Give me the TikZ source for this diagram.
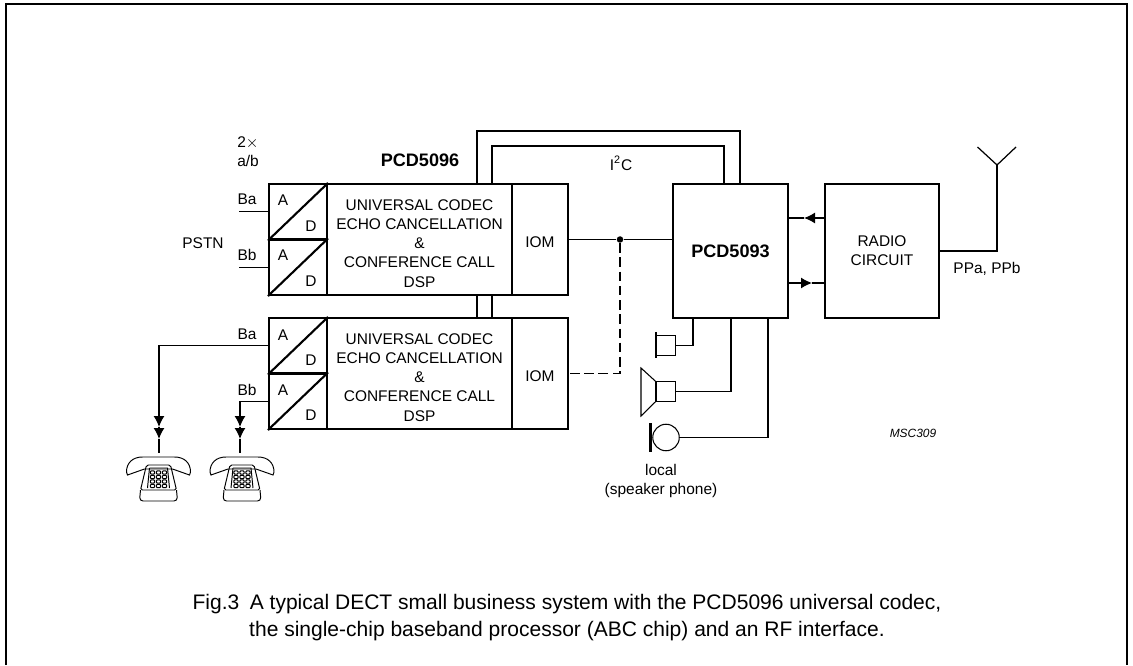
\documentclass[tikz,border=0pt]{standalone}
\usepackage{fontspec}
\setmainfont{Liberation Sans}
\usetikzlibrary{arrows.meta}
\tikzset{
  blockbox/.style={draw,line width=1.2pt,minimum height=2.22cm,inner sep=0pt,align=center},
  adcbox/.style={draw,line width=1.2pt,minimum width=1.16cm,minimum height=1.11cm,inner sep=0pt},
  lbl/.style={inner sep=0pt,align=center},
  boldlbl/.style={font=\fontsize{10.3}{12}\selectfont\bfseries},
  wire/.style={line width=0.7pt},
  sigtip/.style={line width=0.7pt,-{Latex[length=2.2mm,width=2.2mm]}},
  phone/.pic={
    \begin{scope}[x=0.02cm,y=-0.02cm,line width=0.55pt]
    \draw (-32,15) .. controls (-32,6) and (-26,0) .. (-16,0) -- (16,0) .. controls (26,0) and (32,6) .. (32,15) -- (31,18) -- (14,12) -- (-14,12) -- (-31,18) -- cycle;
    \draw[rounded corners=1pt] (-12,8) -- (12,8) -- (18,33) -- (-18,33) -- cycle;
    \draw (-9,11) -- (9,11) -- (11,31);
    \draw (-9,11) -- (-11,31);
    \draw[rounded corners=2pt] (-18,33) -- (-19,44) -- (19,44) -- (18,33);
    \foreach \kx in {-6,0,6}
      \foreach \ky in {15.5,20,24.5,29}
        \draw[rounded corners=0.5pt] (\kx-2.2,\ky-1.6) rectangle (\kx+2.2,\ky+1.6);
    \end{scope}
  }
}
\begin{document}
\begin{tikzpicture}[scale=1.0,font=\fontsize{8.8}{10.9}\selectfont]
\useasboundingbox (0,0) rectangle (22.66,13.3);
% page frame, open at the foot
\draw[line width=1pt] (0.12,0) -- (0.12,13.22) -- (22.54,13.22) -- (22.54,0);
% upper codec
\node[adcbox] (adc1) at (5.96,9.065) {};
\node[adcbox] (adc2) at (5.96,7.955) {};
\node[blockbox,minimum width=3.7cm] (dsp1) at (8.39,8.51) {};
\node[lbl] (txt1) at (8.39,8.43) {UNIVERSAL CODEC\\ECHO CANCELLATION\\\&\\CONFERENCE CALL\\DSP};
\node[blockbox,minimum width=1.12cm,text height=9pt,text depth=0pt] (iom1) at (10.8,8.51) {IOM};
% lower codec
\node[adcbox] (adc3) at (5.96,6.385) {};
\node[adcbox] (adc4) at (5.96,5.275) {};
\node[blockbox,minimum width=3.7cm] (dsp2) at (8.39,5.83) {};
\node[lbl] (txt2) at (8.39,5.75) {UNIVERSAL CODEC\\ECHO CANCELLATION\\\&\\CONFERENCE CALL\\DSP};
\node[blockbox,minimum width=1.12cm,text height=9pt,text depth=0pt] (iom2) at (10.8,5.83) {IOM};
\draw[line width=1.2pt] (adc1.south west) -- (adc1.north east);
\draw[line width=1.2pt] (adc2.south west) -- (adc2.north east);
\draw[line width=1.2pt] (adc3.south west) -- (adc3.north east);
\draw[line width=1.2pt] (adc4.south west) -- (adc4.north east);
\node[lbl] (a1) at (5.66,9.3) {A};
\node[lbl] (d1) at (6.22,8.78) {D};
\node[lbl] (a2) at (5.66,8.2) {A};
\node[lbl] (d2) at (6.22,7.68) {D};
\node[lbl] (a3) at (5.66,6.6) {A};
\node[lbl] (d3) at (6.22,6.1) {D};
\node[lbl] (a4) at (5.66,5.5) {A};
\node[lbl] (d4) at (6.22,5.0) {D};
% baseband and radio
\node[blockbox,boldlbl,minimum width=2.3cm,minimum height=2.68cm] (abc) at (14.61,8.28) {PCD5093};
\node[blockbox,minimum width=2.28cm,minimum height=2.68cm] (radio) at (17.64,8.28) {RADIO\\CIRCUIT};
% labels
\node[lbl] (dual) at (4.96,10.26) {2$\times$\\a/b};
\node[lbl,boldlbl] (name) at (8.4,10.1) {PCD5096};
\node[lbl] (pstn) at (4.06,8.44) {PSTN};
\node[lbl] (ba1) at (4.94,9.32) {Ba};
\node[lbl] (bb1) at (4.94,8.2) {Bb};
\node[lbl] (ba2) at (4.94,6.62) {Ba};
\node[lbl] (bb2) at (4.94,5.5) {Bb};
\node[lbl] (i2c) at (12.42,10.04) {I\textsuperscript{2}C};
\node[lbl] (ppab) at (19.74,7.92) {PPa, PPb};
\node[lbl] (local) at (13.22,3.68) {local\\(speaker phone)};
\node[lbl,font=\fontsize{6.8}{8}\selectfont\itshape] (msc) at (18.26,4.64) {MSC309};
\node[lbl,font=\fontsize{11.96}{15.3}\selectfont] (caption) at (11.34,0.94) {Fig.3\hspace{0.5em}A typical DECT small business system with the PCD5096 universal codec,\\the single-chip baseband processor (ABC chip) and an RF interface.};
% I2C loop
\coordinate (outl) at (9.54,10.68);
\coordinate (outr) at (14.8,10.68);
\coordinate (innl) at (9.84,10.38);
\coordinate (innr) at (14.48,10.38);
\draw[wire] (dsp1.north -| outl) -- (outl) -- (outr) -- (outr |- abc.north);
\draw[wire] (dsp1.north -| innl) -- (innl) -- (innr) -- (innr |- abc.north);
\draw[wire] (dsp1.south -| outl) -- (dsp2.north -| outl);
\draw[wire] (dsp1.south -| innl) -- (dsp2.north -| innl);
% IOM
\node[circle,fill,inner sep=0pt,minimum size=0.13cm] (jct) at (12.4,8.51) {};
\draw[wire] (iom1.east) -- (jct) -- (jct -| abc.west);
\draw[wire,dash pattern=on 5.5pt off 2.6pt] (jct) -- (jct |- iom2.east) -- (iom2.east);
% radio links
\coordinate (tipl) at (16.08,8.94);
\coordinate (tipr) at (16.24,7.64);
\draw[sigtip] (tipl -| radio.west) -- (tipl);
\draw[wire] (tipl) -- (tipl -| abc.east);
\draw[sigtip] (tipr -| abc.east) -- (tipr);
\draw[wire] (tipr) -- (tipr -| radio.west);
% antenna
\coordinate (ant) at (19.94,10.0);
\coordinate (antl) at (19.55,10.36);
\coordinate (antr) at (20.32,10.36);
\draw[wire] (radio.east) -- (radio.east -| ant) -- (ant);
\draw[wire] (antl) -- (ant) -- (antr);
% a/b lines
\coordinate (fr1) at (4.78,9.065);
\coordinate (fr2) at (4.78,7.955);
\draw[wire] (adc1.west) -- (fr1);
\draw[wire] (adc2.west) -- (fr2);
\coordinate (tip1) at (3.18,4.76);
\coordinate (tip2) at (3.18,4.52);
\coordinate (end1) at (3.18,4.24);
\coordinate (tip3) at (4.8,4.76);
\coordinate (tip4) at (4.8,4.52);
\coordinate (end2) at (4.8,4.24);
\draw[sigtip] (adc3.west) -| (tip1);
\draw[sigtip] (tip1) -- (tip2);
\draw[wire] (tip2) -- (end1);
\draw[sigtip] (adc4.west) -| (tip3);
\draw[sigtip] (tip3) -- (tip4);
\draw[wire] (tip4) -- (end2);
\pic at (3.17,4.16) {phone};
\pic at (4.84,4.16) {phone};
% local speaker phone
\node[draw,line width=0.6pt,minimum size=0.39cm,inner sep=0pt] (ear) at (13.315,6.39) {};
\draw[line width=1.4pt] (13.12,6.66) -- (13.12,6.14);
\node[draw,line width=0.6pt,minimum size=0.39cm,inner sep=0pt] (spk) at (13.315,5.47) {};
\draw[line width=0.6pt] (spk.north west) -- (12.82,5.94) -- (12.82,4.98) -- (spk.south west);
\node[draw,circle,line width=0.6pt,minimum size=0.53cm,inner sep=0pt] (mic) at (13.32,4.55) {};
\draw[line width=1.6pt] (13.01,4.84) -- (13.01,4.27);
\coordinate (tap1) at (13.86,6.39);
\coordinate (tap2) at (14.62,5.47);
\coordinate (tap3) at (15.36,4.55);
\draw[wire] (tap1 |- abc.south) -- (tap1) -- (ear.east);
\draw[wire] (tap2 |- abc.south) -- (tap2) -- (spk.east);
\draw[wire] (tap3 |- abc.south) -- (tap3) -- (mic.east);
\end{tikzpicture}
\end{document}
